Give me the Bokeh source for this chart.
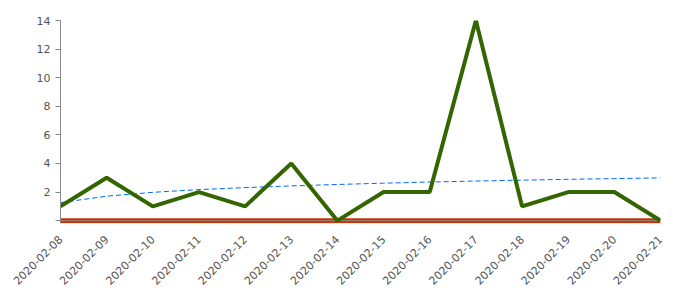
from bokeh.plotting import figure
from bokeh.models import Range1d, FixedTicker, ColumnDataSource
from bokeh.embed import file_html
from bokeh.resources import INLINE
import math

dates = ["2020-02-08", "2020-02-09", "2020-02-10", "2020-02-11", "2020-02-12",
         "2020-02-13", "2020-02-14", "2020-02-15", "2020-02-16", "2020-02-17",
         "2020-02-18", "2020-02-19", "2020-02-20", "2020-02-21"]
counts = [1, 3, 1, 2, 1, 4, 0, 2, 2, 14, 1, 2, 2, 0]
trend = [1.26, 1.71, 1.98, 2.17, 2.31, 2.43, 2.53, 2.62, 2.70, 2.77, 2.83, 2.89, 2.94, 2.99]
baseline = [0] * len(dates)
y_ticks = [0, 2, 4, 6, 8, 10, 12, 14]

xs = list(range(len(dates)))
src = ColumnDataSource(dict(x=xs, counts=counts, trend=trend, base=baseline))

p = figure(width=700, height=300, output_backend="svg", toolbar_location=None,
           x_range=Range1d(0, len(dates) - 1), y_range=Range1d(-0.2, 14),
           min_border_left=60, min_border_right=40, min_border_top=20,
           min_border_bottom=77)
p.outline_line_color = None
p.xgrid.visible = False
p.ygrid.visible = False

p.line("x", "base", source=src, line_color="#cc3300", line_width=5)
p.line("x", "base", source=src, line_color="#888888", line_width=1)
p.line("x", "trend", source=src, line_color="#0066ff", line_width=1, line_dash="5 3")
p.line("x", "counts", source=src, line_color="#336600", line_width=4)

label_font = "DejaVu Sans"
xa = p.xaxis[0]
xa.ticker = FixedTicker(ticks=xs)
xa.major_label_overrides = {i: d for i, d in enumerate(dates)}
xa.major_label_orientation = math.pi / 4
xa.major_tick_out = 0
xa.major_tick_in = 0
xa.minor_tick_out = 0
xa.minor_tick_in = 0
xa.axis_line_color = None
xa.major_label_text_font = label_font
xa.major_label_text_font_size = "11px"
xa.major_label_text_color = "#555555"
xa.major_label_standoff = 14

ya = p.yaxis[0]
ya.ticker = FixedTicker(ticks=y_ticks)
ya.major_label_overrides = {0: ""}
ya.major_tick_out = 5
ya.major_tick_in = 0
ya.minor_tick_out = 0
ya.minor_tick_in = 0
ya.axis_line_color = "#888888"
ya.major_tick_line_color = "#888888"
ya.major_label_text_font = label_font
ya.major_label_text_font_size = "11px"
ya.major_label_text_color = "#555555"
ya.major_label_standoff = 5

open("out.html", "w").write(file_html(p, INLINE))
